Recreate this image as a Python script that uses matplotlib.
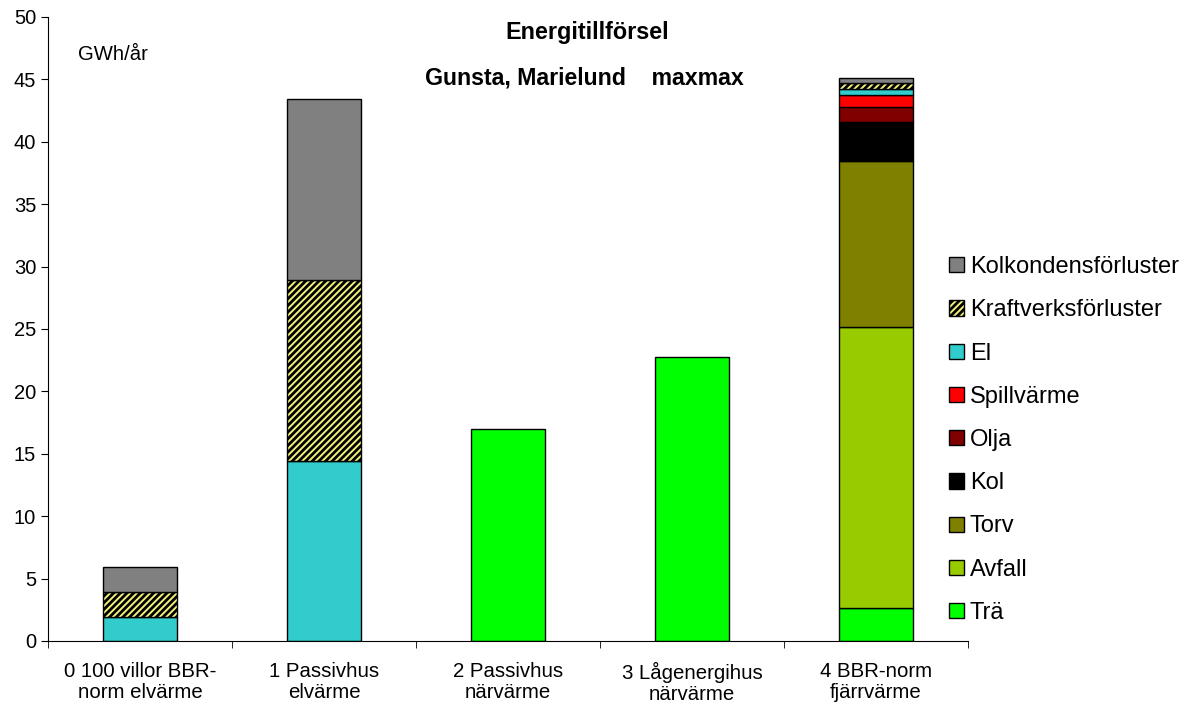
import matplotlib.pyplot as plt
import numpy as np

plt.rcParams['font.family'] = ['Liberation Sans', 'DejaVu Sans']
plt.rcParams['hatch.linewidth'] = 2.0

# --- Data ---
kategorier = ["0 100 villor BBR-\nnorm elvärme", "1 Passivhus\nelvärme", "2 Passivhus\nnärvärme",
              "3 Lågenergihus\nnärvärme", "4 BBR-norm\nfjärrvärme"]

tra       = [0, 0, 17.0, 22.75, 2.64]
avfall    = [0, 0, 0, 0, 22.52]
torv      = [0, 0, 0, 0, 13.3]
kol       = [0, 0, 0, 0, 3.15]
olja      = [0, 0, 0, 0, 1.2]
spill     = [0, 0, 0, 0, 0.94]
el        = [1.95, 14.42, 0, 0, 0.45]
kraftverk = [2.0, 14.51, 0, 0, 0.48]
kolkond   = [2.0, 14.5, 0, 0, 0.41]

serier = [
    ("Trä", tra, "#00ff00", None),
    ("Avfall", avfall, "#99cc00", None),
    ("Torv", torv, "#808000", None),
    ("Kol", kol, "#000000", None),
    ("Olja", olja, "#800000", None),
    ("Spillvärme", spill, "#ff0000", None),
    ("El", el, "#33cccc", None),
    ("Kraftverksförluster", kraftverk, "#f2f27a", "/////"),
    ("Kolkondensförluster", kolkond, "#808080", None),
]

fig = plt.figure(figsize=(11.86, 7.06), dpi=100)
ax = fig.add_axes([48 / 1186, 65 / 706, 920 / 1186, 624 / 706])

x = np.arange(len(kategorier))
botten = np.zeros(len(kategorier))
handles = []
for namn, varden, farg, monster in serier:
    v = np.array(varden, dtype=float)
    m = v > 0  # hoppa över tomma segment så att inga kantlinjer ritas
    b = ax.bar(x[m], v[m], width=0.4, bottom=botten[m], color=farg, edgecolor="black",
               linewidth=1.0, hatch=monster, label=namn)
    handles.append(b)
    botten = botten + v

ax.set_xlim(-0.5, len(kategorier) - 0.5)
ax.set_ylim(0, 50)
ax.set_yticks(range(0, 51, 5))
ax.tick_params(axis='y', labelsize=14.5, direction='out', length=5)

# x-axeln: etiketter centrerade, tickmarkeringar mellan kategorierna
ax.set_xticks(x)
ax.set_xticklabels(kategorier, fontsize=14.7, linespacing=1.12)
ax.tick_params(axis='x', length=0, pad=15)
ax.set_xticks(np.arange(-0.5, len(kategorier)), minor=True)
ax.tick_params(axis='x', which='minor', length=5, direction='out')

ax.spines['top'].set_visible(False)
ax.spines['right'].set_visible(False)

fig.text(587 / 1186, 1 - 32 / 706, "Energitillförsel", fontsize=16.8, fontweight="bold",
         ha="center", va="center")
fig.text(584 / 1186, 1 - 78 / 706, "Gunsta, Marielund    maxmax", fontsize=16.7,
         fontweight="bold", ha="center", va="center")
fig.text(78 / 1186, 1 - 55 / 706, "GWh/år", fontsize=14.6, ha="left", va="center")

leg = fig.legend(handles[::-1], [s[0] for s in serier][::-1], loc="center left",
                 bbox_to_anchor=(928 / 1186, 1 - 440 / 706), frameon=False, fontsize=17,
                 handlelength=0.62, handleheight=0.62, handletextpad=0.25, labelspacing=0.9)

plt.savefig("out.png", dpi=100)
